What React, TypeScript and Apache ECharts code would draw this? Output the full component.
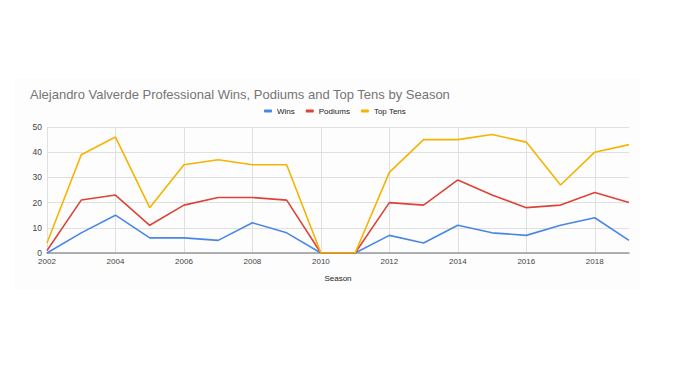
import React, { useEffect, useRef } from "react";
import * as echarts from "echarts";

const seasons = ["2002","2003","2004","2005","2006","2007","2008","2009","2010","2011","2012","2013","2014","2015","2016","2017","2018","2019"];
const wins = [0, 8, 15, 6, 6, 5, 12, 8, 0, 0, 7, 4, 11, 8, 7, 11, 14, 5];
const podiums = [1, 21, 23, 11, 19, 22, 22, 21, 0, 0, 20, 19, 29, 23, 18, 19, 24, 20];
const topTens = [4, 39, 46, 18, 35, 37, 35, 35, 0, 0, 32, 45, 45, 47, 44, 27, 40, 43];

const FONT = "'Liberation Sans', Arial, sans-serif";

export default function App() {
  const ref = useRef<HTMLDivElement>(null);
  useEffect(() => {
    if (!ref.current) return;
    const chart = echarts.init(ref.current, null, { renderer: "svg" });
    const mk = (name: string, data: number[], color: string) => ({
      name,
      type: "line",
      data,
      showSymbol: false,
      symbol: "none",
      lineStyle: { color, width: 1.6 },
      itemStyle: { color },
    });
    chart.setOption({
      animation: false,
      backgroundColor: "#ffffff",
      textStyle: { fontFamily: FONT },
      graphic: [
        {
          type: "rect",
          z: -10,
          shape: { x: 15, y: 78, width: 625, height: 212 },
          style: { fill: "#fdfdfd" },
        },
      ],
      title: {
        text: "Alejandro Valverde Professional Wins, Podiums and Top Tens by Season",
        left: 25,
        top: 83,
        textStyle: { fontFamily: FONT, fontSize: 13, fontWeight: "normal", color: "#757575" },
      },
      legend: {
        top: 102,
        left: 259,
        icon: "roundRect",
        itemWidth: 8,
        itemHeight: 3,
        itemGap: 11,
        textStyle: { fontFamily: FONT, fontSize: 8, color: "#222" },
        data: ["Wins", "Podiums", "Top Tens"],
      },
      grid: { left: 47, right: 64, top: 127, bottom: 139, containLabel: false },
      xAxis: {
        type: "category",
        data: seasons,
        boundaryGap: false,
        name: "Season",
        nameLocation: "middle",
        nameGap: 21,
        nameTextStyle: { fontFamily: FONT, fontSize: 8, color: "#222" },
        axisLine: { lineStyle: { color: "#999", width: 1.5 } },
        axisTick: { show: false },
        axisLabel: { interval: 1, fontFamily: FONT, fontSize: 8, color: "#444", margin: 4 },
        splitLine: { show: true, interval: 1, lineStyle: { color: "#e0e0e0", width: 1 } },
      },
      yAxis: {
        type: "value",
        min: 0,
        max: 50,
        interval: 10,
        axisLine: { show: false },
        axisTick: { show: false },
        axisLabel: { fontFamily: FONT, fontSize: 8.5, color: "#444", margin: 5 },
        splitLine: { lineStyle: { color: "#e0e0e0", width: 1 } },
      },
      series: [
        mk("Wins", wins, "#4a86e8"),
        mk("Podiums", podiums, "#db4437"),
        mk("Top Tens", topTens, "#f4b400"),
      ],
    });
    return () => chart.dispose();
  }, []);
  return (
    <div
      ref={ref}
      style={{ position: "absolute", left: 0, top: 0, width: 693, height: 392 }}
    />
  );
}
